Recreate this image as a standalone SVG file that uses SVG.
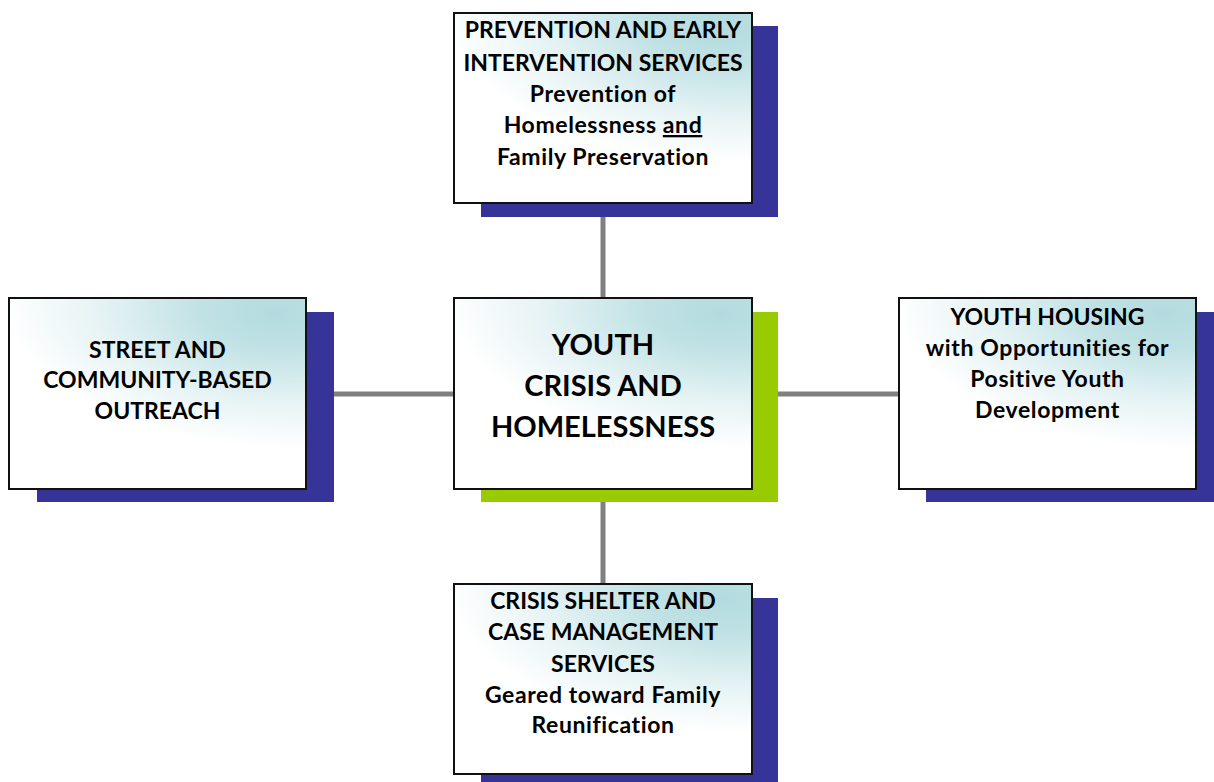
<svg xmlns="http://www.w3.org/2000/svg" width="1214" height="782" viewBox="0 0 1214 782">
<defs>
<radialGradient id="g" cx="1" cy="0" r="1" fx="0.9" fy="0.1" gradientTransform="translate(1,0) scale(1.1,0.85) translate(-1,0)">
<stop offset="0" stop-color="#b3dbdf"/>
<stop offset="0.25" stop-color="#c1e2e5"/>
<stop offset="0.6" stop-color="#e6f3f4"/>
<stop offset="0.92" stop-color="#ffffff"/>
</radialGradient>
<style>
.box{fill:url(#g);stroke:#111;stroke-width:2}
.sh{fill:#363399}
.shg{fill:#99cc00}
.t{font-family:Lato,"Liberation Sans",sans-serif;font-weight:bold;font-size:23px;fill:#000;text-anchor:middle;font-variant-ligatures:none}
.l{letter-spacing:0.6px}
.c{font-size:29px}
.ln{stroke:#808080;stroke-width:5;fill:none}
</style>
</defs>
<g id="connectors">
<line class="ln" x1="603" y1="217" x2="603" y2="298"/>
<line class="ln" x1="603" y1="502" x2="603" y2="584"/>
<line class="ln" x1="334" y1="394" x2="454" y2="394"/>
<line class="ln" x1="778" y1="394" x2="899" y2="394"/>
</g>
<g id="top">
<rect class="sh" x="481" y="26" width="297" height="191"/>
<rect class="box" x="454" y="13" width="298" height="190"/>
<text class="t" x="603" y="38">PREVENTION AND EARLY</text>
<text class="t" x="603" y="71">INTERVENTION SERVICES</text>
<text class="t l" x="603" y="102">Prevention of</text>
<text class="t l" x="603" y="133">Homelessness <tspan text-decoration="underline">and</tspan></text>
<text class="t l" x="603" y="165">Family Preservation</text>
</g>
<g id="center">
<rect class="shg" x="481" y="312" width="297" height="190"/>
<rect class="box" x="454" y="298" width="298" height="191"/>
<text class="t c" x="603" y="355">YOUTH</text>
<text class="t c" x="603" y="396">CRISIS AND</text>
<text class="t c" x="603" y="437">HOMELESSNESS</text>
</g>
<g id="left">
<rect class="sh" x="37" y="312" width="297" height="190"/>
<rect class="box" x="9" y="298" width="297" height="191"/>
<text class="t" x="157.5" y="358">STREET AND</text>
<text class="t" x="157.5" y="388">COMMUNITY-BASED</text>
<text class="t" x="157.5" y="419">OUTREACH</text>
</g>
<g id="right">
<rect class="sh" x="926" y="312" width="288" height="190"/>
<rect class="box" x="899" y="298" width="297" height="191"/>
<text class="t" x="1047.5" y="325">YOUTH HOUSING</text>
<text class="t l" x="1047.5" y="356">with Opportunities for</text>
<text class="t l" x="1047.5" y="387">Positive Youth</text>
<text class="t l" x="1047.5" y="418">Development</text>
</g>
<g id="bottom">
<rect class="sh" x="481" y="598" width="297" height="184"/>
<rect class="box" x="454" y="584" width="298" height="190"/>
<text class="t" x="603" y="609">CRISIS SHELTER AND</text>
<text class="t" x="603" y="640">CASE MANAGEMENT</text>
<text class="t" x="603" y="672">SERVICES</text>
<text class="t l" x="603" y="703">Geared toward Family</text>
<text class="t l" x="603" y="733">Reunification</text>
</g>
</svg>
